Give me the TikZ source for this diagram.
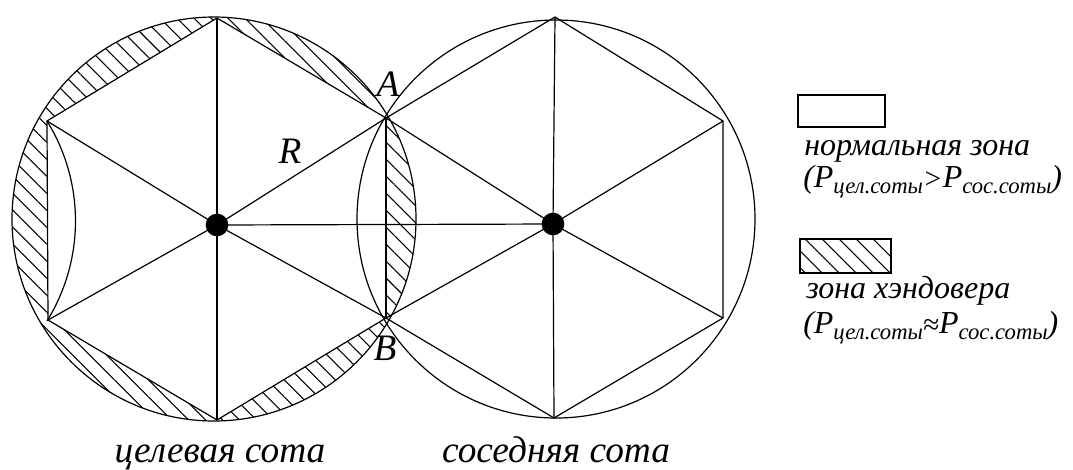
\documentclass[tikz,border=0pt]{standalone}
\usepackage{fontspec}
\setmainfont{Liberation Serif}
\usetikzlibrary{patterns.meta}
\newcommand\subf{\fontsize{17}{17}\selectfont\itshape}
\newcommand\relf{\fontsize{22}{22}\selectfont}
\newcommand\mysub[1]{\lower5pt\hbox{\subf #1}}
\tikzset{
  ln/.style={line width=0.9pt, line join=round},
  thick edge/.style={line width=1.5pt},
  hatch/.style={pattern={Lines[angle=-45,distance=9pt,line width=0.8pt]}},
  dot/.style={circle, fill=black, minimum size=17pt, inner sep=0pt},
  lbl/.style={font=\fontsize{28}{30}\selectfont\itshape, inner sep=0pt},
  leg/.style={font=\fontsize{24}{26}\selectfont\itshape, inner sep=0pt, anchor=base west},
  legbox/.style={draw, line width=1pt}
}
\begin{document}
\begin{tikzpicture}[x=0.75pt, y=-0.75pt]
\useasboundingbox (0,0) rectangle (1073,469);
% centres and vertices
\coordinate (Lc) at (217,225);
\coordinate (Rc) at (553,224);
\coordinate (LC) at (214,219);
\coordinate (RC) at (556,219);
\coordinate (T1) at (217,18);
\coordinate (A) at (386,118);
\coordinate (B) at (386,318);
\coordinate (D1) at (217,420);
\coordinate (BL) at (48,320);
\coordinate (TL) at (47,121);
\coordinate (T2) at (555,17);
\coordinate (TR) at (723,121);
\coordinate (BR) at (723,318);
\coordinate (D2) at (554,418);
% handover zone hatching
\path[hatch, even odd rule] (LC) circle[radius=151.5pt]
  (TL) -- (T1) -- (A) -- (B) -- (D1) -- (BL) -- cycle;
% circles
\draw[ln] (LC) circle[radius=151.5pt];
\draw[ln] (RC) circle[radius=149.25pt];
\draw[ln] (TL) arc[start angle=31.8, end angle=-31.8, radius=142.3pt];
% hexagons
\draw[ln] (TL) -- (T1) -- (A) -- (B) -- (D1) -- (BL) -- cycle;
\draw[ln] (A) -- (T2) -- (TR) -- (BR) -- (D2) -- (B);
\draw[thick edge] (A) -- (B);
% spokes
\foreach \v in {T1,A,B,D1,BL,TL} \draw[ln] (Lc) -- (\v);
\foreach \v in {T2,TR,BR,D2,A,B} \draw[ln] (Rc) -- (\v);
\draw[ln] (Lc) -- (Rc);
\node[dot] (dL) at (Lc) {};
\node[dot] (dR) at (Rc) {};
% labels
\node[lbl] (lA) at (388,84) {A};
\node[lbl] (lB) at (385,348) {B};
\node[lbl] (lR) at (290,151) {R};
\node[lbl, anchor=base] (cap1) at (220,462) {целевая сота};
\node[lbl, anchor=base] (cap2) at (556,462) {соседняя сота};
% legend
\draw[legbox, fill=white] (798,95) rectangle (885,127);
\node[leg] (n1) at (804,155) {нормальная зона};
\node[leg] (n2) at (803,187) {(\textit{P}\mysub{цел.соты}\lower1pt\hbox{\relf >}\textit{P}\mysub{сос.соты})};
\draw[legbox, hatch] (800,239) rectangle (891,273);
\node[leg] (h1) at (806,298) {зона хэндовера};
\node[leg] (h2) at (803,333) {(\textit{P}\mysub{цел.соты}\lower1pt\hbox{\relf ≈}\textit{P}\mysub{сос.соты})};
\end{tikzpicture}
\end{document}
